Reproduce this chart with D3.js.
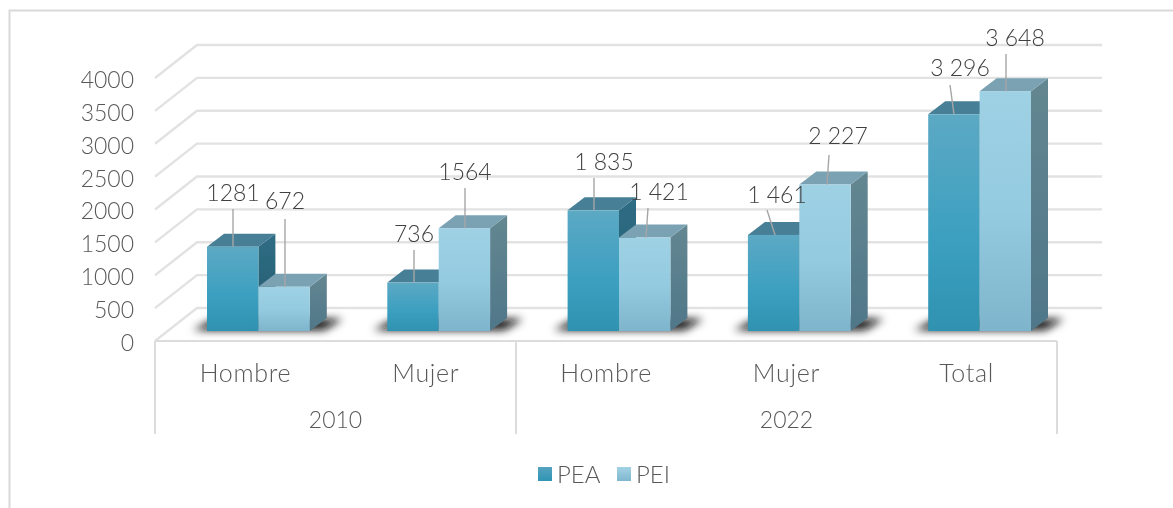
<!DOCTYPE html>
<html><head><meta charset="utf-8">
<script src="https://cdn.jsdelivr.net/npm/d3@7"></script>
<style>
html,body{margin:0;padding:0;background:#fff}
text{font-family:"Lato",sans-serif;font-weight:300}
</style></head><body><svg id="c" width="1173" height="508"></svg>
<script>
const subCategories=["Hombre","Mujer","Hombre","Mujer","Total"];
const years=[{label:"2010",from:0,to:2},{label:"2022",from:2,to:5}];
const seriesNames=["PEA","PEI"];
const pea=[1281,736,1835,1461,3296];
const pei=[672,1564,1421,2227,3648];
const peaLabels=["1281","736","1 835","1 461","3 296"];
const peiLabels=["672","1564","1 421","2 227","3 648"];
const yTicks=[0,500,1000,1500,2000,2500,3000,3500,4000];

const left=155,right=1057,front=341,ddx=43,ddy=33,barDx=17,barDy=13,barBase=331;
const svg=d3.select("#c");
const defs=svg.append("defs");
function grad(id,stops){const g=defs.append("linearGradient").attr("id",id).attr("x1",0).attr("y1",0).attr("x2",0).attr("y2",1);
 stops.forEach(s=>g.append("stop").attr("offset",s[0]).attr("stop-color",s[1]));}
grad("gA",[[0,"#5ca9c4"],[.6,"#3b9fc0"],[1,"#2f92b0"]]);
grad("gB",[[0,"#9fd1e4"],[.5,"#94cbe0"],[1,"#7fb5cc"]]);
grad("sA",[[0,"#2f6d84"],[1,"#235a6e"]]);
grad("sB",[[0,"#648791"],[1,"#4f7789"]]);
grad("lA",[[0,"#55a3c0"],[1,"#2f95b3"]]);
grad("lB",[[0,"#a3d2e5"],[1,"#7fb7ce"]]);
defs.append("filter").attr("id","soft").attr("filterUnits","userSpaceOnUse").attr("x",0).attr("y",0).attr("width",1173).attr("height",508).append("feGaussianBlur").attr("stdDeviation",.45);
defs.append("filter").attr("id","blur").attr("filterUnits","userSpaceOnUse").attr("x",0).attr("y",280).attr("width",1173).attr("height",80).append("feGaussianBlur").attr("stdDeviation",4);

const root=svg.append("g").attr("filter","url(#soft)");
root.append("path").attr("d",`M1173,10.5H9.5V508`).attr("fill","none").attr("stroke","#d9d9d9").attr("stroke-width",2);

const yFront=d3.scaleLinear().domain([0,4000]).range([front,78]);
const yBar=d3.scaleLinear().domain([0,4000]).range([barBase,barBase-263]);
const xBand=d3.scaleBand().domain(d3.range(subCategories.length)).range([192.6,192.6+180.3*5]);
const barW=51.4;
const x0=i=>xBand(i)+14.4;

// walls
const grid=root.append("g").attr("fill","none").attr("stroke","#e2e2e2").attr("stroke-width",2.4);
yTicks.forEach(t=>{const y=yFront(t);
 grid.append("path").attr("d",`M${left},${y}L${left+ddx-1},${y-ddy}H1102`);
});

// category axis frame
const frame=root.append("g").attr("fill","none").attr("stroke","#dcdcdc").attr("stroke-width",2);
frame.append("path").attr("d",`M${left},${front}H${right}`);
const separators=[left,516,right];
separators.forEach(x=>frame.append("path").attr("d",`M${x},${front}V434`));

// y axis via d3
const ax=root.append("g").attr("transform","translate(134,2)").call(d3.axisLeft(yFront).tickValues(yTicks).tickFormat(d3.format("d")).tickSize(0).tickPadding(0));
ax.select(".domain").remove();
ax.selectAll("text").attr("font-size",23).attr("fill","#595959").style("font-family","Lato").style("font-weight",300);

// shadows
const shadow=root.append("g").attr("filter","url(#blur)");
pea.forEach((_,i)=>{const a=x0(i);
 shadow.append("path").attr("d",`M${a-14},${barBase-1}L${a+8},${barBase-12}H${a+2*barW+33}L${a+2*barW+14},${barBase-1}Z`).attr("fill","#111");
});

// bars
function bar(g,x,v,front,side,top){const yt=yBar(v);
 g.append("path").attr("d",`M${x+barW},${yt}l${barDx},${-barDy}V${barBase-barDy}L${x+barW},${barBase}Z`).attr("fill",`url(#${side})`);
 g.append("path").attr("d",`M${x},${yt}l${barDx},${-barDy}h${barW}l${-barDx},${barDy}Z`).attr("fill",top);
 g.append("rect").attr("x",x).attr("y",yt).attr("width",barW).attr("height",barBase-yt).attr("fill",`url(#${front})`);
}
const bars=root.append("g");
pea.forEach((v,i)=>{bar(bars,x0(i),v,"gA","sA","#477f97");bar(bars,x0(i)+barW,pei[i],"gB","sB","#7aa2b3");});

// data labels with leader lines
const lab=root.append("g");
function label(x,v,text,cx,cy,ly,lx){
 lab.append("line").attr("x1",lx).attr("y1",ly).attr("x2",x).attr("y2",yBar(v)).attr("stroke","#a6a6a6").attr("stroke-width",1.4);
 lab.append("text").attr("x",cx).attr("y",cy).attr("text-anchor","middle").attr("dy",".35em").attr("font-size",23).attr("fill","#404040").text(text);
}
const posA=[[233,193,209,233,233],[414,234,250,414,414],[604,162,178,594,594],[777,195,210,767,775],[960,68,85,950,954]];
const posB=[[285,201,219,285,285],[465,172,188,465,465],[659,192,208,648,646],[838,136,155,829,827],[1015,38,54,1006,1006]];
pea.forEach((v,i)=>{const a=posA[i],b=posB[i];
 label(a[4],v,peaLabels[i],a[0],a[1],a[2],a[3]);
 label(b[4],pei[i],peiLabels[i],b[0],b[1],b[2],b[3]);
});

// category labels
const cat=root.append("g").attr("fill","#595959").attr("text-anchor","middle");
subCategories.forEach((c,i)=>cat.append("text").attr("x",x0(i)+38.5).attr("y",373).attr("dy",".35em").attr("font-size",25).style("letter-spacing","0.7px").text(c));
years.forEach((y,i)=>cat.append("text").attr("x",(separators[i]+separators[i+1])/2).attr("y",420).attr("dy",".35em").attr("font-size",23).text(y.label));

// legend
const leg=root.append("g");
[[538,557,"lA"],[617,636,"lB"]].forEach((p,i)=>{
 leg.append("rect").attr("x",p[0]).attr("y",467).attr("width",14).attr("height",14).attr("fill",`url(#${p[2]})`);
 leg.append("text").attr("x",p[1]).attr("y",475).attr("dy",".35em").attr("font-size",24).attr("fill","#595959").text(seriesNames[i]);
});
</script></body></html>
